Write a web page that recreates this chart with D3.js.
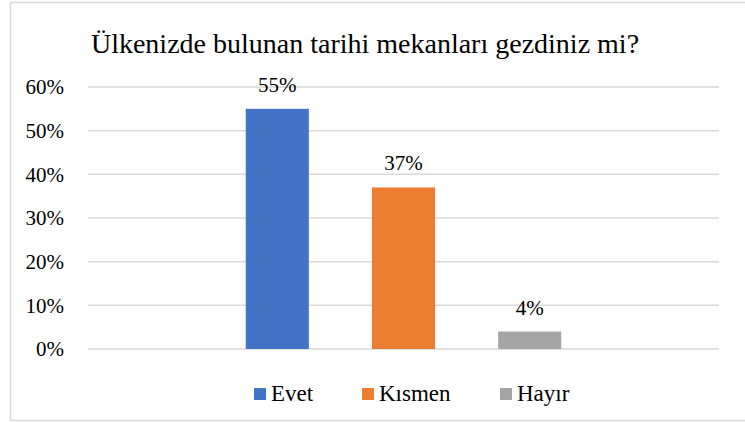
<!DOCTYPE html>
<html>
<head>
<meta charset="utf-8">
<script src="https://cdn.jsdelivr.net/npm/d3@7"></script>
</head>
<body style="margin:0; background:#fff;">
<div id="chart"></div>
<script>
// chart data
const title = "Ülkenizde bulunan tarihi mekanları gezdiniz mi?";
const categories = ["Evet", "Kısmen", "Hayır"];
const values = [0.55, 0.37, 0.04];
const colors = ["#4472C4", "#ED7D31", "#A5A5A5"];
const yTicks = [0, 0.1, 0.2, 0.3, 0.4, 0.5, 0.6];

const serif = "Liberation Serif";

let width = 745, height = 423;
let margin = { top: 87, right: 26, bottom: 74, left: 88 };
let innerW = width - margin.left - margin.right;
let innerH = height - margin.top - margin.bottom;

let svg = d3.select("#chart").append("svg")
    .attr("width", width)
    .attr("height", height)
    .attr("font-family", serif);

// outer border of the chart area
svg.append("rect")
    .attr("x", 10.5)
    .attr("y", 2.5)
    .attr("width", 760)
    .attr("height", 418)
    .attr("fill", "none")
    .attr("stroke", "#d9d9d9")
    .attr("stroke-width", 1.5);

svg.append("text")
    .attr("class", "chart-title")
    .attr("x", 365)
    .attr("y", 53)
    .attr("text-anchor", "middle")
    .attr("font-family", serif)
    .attr("font-size", 28)
    .attr("fill", "#000")
    .text(title);

let g = svg.append("g")
    .attr("transform", `translate(${margin.left}, ${margin.top})`);

let x = d3.scaleBand()
    .domain(categories)
    .range([0, innerW])
    .paddingInner(0.5)
    .paddingOuter(1.25);

let y = d3.scaleLinear()
    .domain([0, 0.6])
    .range([innerH, 0]);

// gridlines
g.selectAll(".grid")
    .data(yTicks)
    .enter()
    .append("line")
    .attr("class", "grid")
    .attr("x1", 0)
    .attr("x2", innerW)
    .attr("y1", d => y(d))
    .attr("y2", d => y(d))
    .attr("stroke", "#d9d9d9")
    .attr("stroke-width", 1.5);

// y axis labels
let yAxis = d3.axisLeft(y)
    .tickValues(yTicks)
    .tickFormat(d3.format(".0%"))
    .tickSize(0)
    .tickPadding(24);

g.append("g")
    .attr("class", "y-axis")
    .call(yAxis)
    .attr("font-family", serif)
    .attr("font-size", 21)
    .call(ax => ax.select(".domain").remove())
    .selectAll("text")
    .attr("fill", "#000");

// bars
g.selectAll(".bar")
    .data(values)
    .enter()
    .append("rect")
    .attr("class", "bar")
    .attr("x", (d, i) => x(categories[i]))
    .attr("width", x.bandwidth())
    .attr("y", d => y(d))
    .attr("height", d => y(0) - y(d))
    .attr("fill", (d, i) => colors[i]);

// value labels
g.selectAll(".value-label")
    .data(values)
    .enter()
    .append("text")
    .attr("class", "value-label")
    .attr("x", (d, i) => x(categories[i]) + x.bandwidth() / 2)
    .attr("y", d => y(d) - 17)
    .attr("text-anchor", "middle")
    .attr("font-family", serif)
    .attr("font-size", 21)
    .text(d => d3.format(".0%")(d));

// legend
let legendX = [254, 362, 500];
let legend = svg.selectAll(".legend")
    .data(categories)
    .enter()
    .append("g")
    .attr("class", "legend")
    .attr("transform", (d, i) => `translate(${legendX[i]}, 388)`);

legend.append("rect")
    .attr("width", 12)
    .attr("height", 12)
    .attr("fill", (d, i) => colors[i]);

legend.append("text")
    .attr("x", 17)
    .attr("y", 13)
    .attr("font-family", serif)
    .attr("font-size", 23)
    .text(d => d);
</script>
</body>
</html>
